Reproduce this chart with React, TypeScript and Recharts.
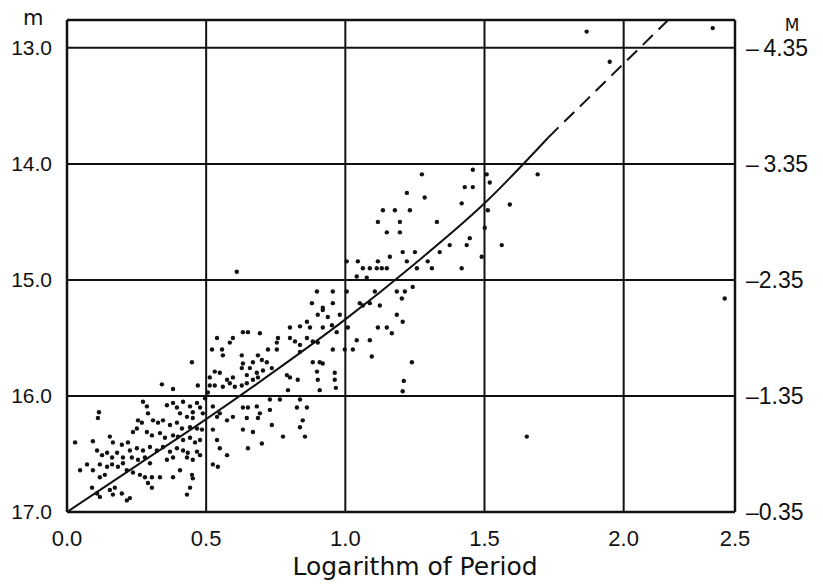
import { ScatterChart, Scatter, XAxis, YAxis, CartesianGrid, ReferenceLine } from 'recharts';

// x ticks follow the drawn grid; the frame closes at 2.4 on that spacing but is lettered "2.5"
const xTicks = [0, 0.5, 1.0, 1.5, 2.0, 2.4];
const xTickLabels = ['0.0', '0.5', '1.0', '1.5', '2.0', '2.5'];
const mTicks = [13, 14, 15, 16, 17];
const mTickLabels = ['13.0', '14.0', '15.0', '16.0', '17.0'];
const absMagLabels = ['–\u20094.35', '–\u20093.35', '–2.35', '–1.35', '–0.35'];
const mTop = 12.76;

// [log P, m]
const stars: [number, number][] = [
  [0.341, 15.9], [0.381, 15.94], [0.47, 15.91], [0.115, 16.14], [0.111, 16.19], [0.273, 16.05], [0.287, 16.09],
  [0.291, 16.15], [0.359, 16.08], [0.381, 16.06], [0.395, 16.1], [0.417, 16.05], [0.442, 16.09], [0.452, 16.14],
  [0.467, 16.06], [0.478, 16.1], [0.406, 16.15], [0.431, 16.18], [0.452, 16.19], [0.488, 16.15],
  [0.255, 16.21], [0.269, 16.23], [0.251, 16.28], [0.237, 16.31], [0.309, 16.21], [0.327, 16.23], [0.345, 16.21],
  [0.37, 16.25], [0.395, 16.23], [0.413, 16.28], [0.442, 16.27], [0.467, 16.28], [0.485, 16.29],
  [0.287, 16.31], [0.305, 16.34], [0.334, 16.32], [0.352, 16.36], [0.381, 16.34], [0.399, 16.35], [0.417, 16.38],
  [0.442, 16.36], [0.46, 16.4], [0.478, 16.38],
  [0.029, 16.4], [0.093, 16.39], [0.154, 16.35], [0.165, 16.4], [0.197, 16.42], [0.219, 16.4], [0.226, 16.47],
  [0.251, 16.45], [0.273, 16.47], [0.298, 16.44], [0.323, 16.47], [0.345, 16.44], [0.37, 16.48], [0.395, 16.45],
  [0.417, 16.47], [0.434, 16.49], [0.467, 16.48], [0.478, 16.51],
  [0.108, 16.47], [0.126, 16.51], [0.144, 16.49], [0.162, 16.53], [0.18, 16.49], [0.201, 16.53], [0.233, 16.53],
  [0.255, 16.55], [0.28, 16.53], [0.298, 16.58], [0.359, 16.55], [0.381, 16.53], [0.431, 16.53], [0.452, 16.55],
  [0.047, 16.64], [0.072, 16.59], [0.093, 16.64], [0.118, 16.59], [0.144, 16.61], [0.162, 16.59], [0.183, 16.61],
  [0.201, 16.58], [0.215, 16.64], [0.237, 16.66], [0.262, 16.68], [0.28, 16.7], [0.305, 16.7], [0.334, 16.7],
  [0.381, 16.7], [0.406, 16.64], [0.449, 16.68], [0.452, 16.71], [0.118, 16.7], [0.136, 16.68],
  [0.291, 16.75], [0.305, 16.79], [0.09, 16.79], [0.108, 16.84], [0.154, 16.81], [0.172, 16.79], [0.165, 16.85],
  [0.197, 16.84], [0.226, 16.88], [0.215, 16.9], [0.431, 16.85], [0.442, 16.79], [0.118, 16.87],
  [0.449, 15.71],
  [0.524, 16.09], [0.549, 16.15], [0.575, 16.21], [0.596, 16.18], [0.524, 16.29], [0.539, 16.38], [0.549, 16.45],
  [0.575, 16.51], [0.524, 16.59], [0.542, 16.61], [0.539, 16.18], [0.496, 16.02], [0.506, 15.97], [0.513, 15.91],
  [0.88, 15.2], [0.919, 15.24], [0.955, 15.2], [0.901, 15.3], [0.937, 15.32], [0.862, 15.36], [0.801, 15.41],
  [0.837, 15.4], [0.873, 15.41], [0.952, 15.39], [0.969, 15.45], [0.632, 15.45], [0.65, 15.45], [0.693, 15.46],
  [0.539, 15.5], [0.585, 15.54], [0.596, 15.5], [0.758, 15.5], [0.754, 15.54], [0.801, 15.5], [0.819, 15.53],
  [0.837, 15.56], [0.862, 15.5], [0.883, 15.53], [0.901, 15.54],
  [0.521, 15.6], [0.557, 15.6], [0.56, 15.65], [0.722, 15.6], [0.754, 15.6], [0.837, 15.62], [0.955, 15.6],
  [1.027, 15.6], [1.041, 15.52],
  [0.628, 15.65], [0.686, 15.65], [0.7, 15.69], [0.718, 15.71], [0.668, 15.71], [0.632, 15.72], [0.657, 15.76],
  [0.628, 15.76], [0.736, 15.76], [0.704, 15.78], [0.682, 15.8], [0.686, 15.84], [0.668, 15.86], [0.646, 15.82],
  [0.596, 15.84], [0.575, 15.86], [0.531, 15.79], [0.549, 15.8], [0.513, 15.84],
  [0.531, 15.91], [0.56, 15.92], [0.585, 15.89], [0.603, 15.92], [0.628, 15.91], [0.646, 15.89], [0.79, 15.82],
  [0.801, 15.84], [0.829, 15.86], [0.794, 15.95], [0.883, 15.71], [0.908, 15.71], [0.919, 15.72], [0.898, 15.79],
  [0.901, 15.86], [0.962, 15.8], [0.962, 15.86], [0.966, 15.93], [0.908, 15.95],
  [0.632, 16.1], [0.65, 16.1], [0.682, 16.09], [0.693, 16.15], [0.729, 16.03], [0.765, 16.03], [0.837, 16.03],
  [0.826, 16.1], [0.862, 16.1], [0.729, 16.12], [0.736, 16.25], [0.686, 16.19], [0.646, 16.19], [0.847, 16.21],
  [0.837, 16.27], [0.632, 16.29], [0.668, 16.31], [0.7, 16.41], [0.65, 16.45], [0.776, 16.35], [0.855, 16.35],
  [0.898, 15.1], [0.955, 15.1], [0.919, 15.26], [1.106, 15.1], [1.063, 15.22], [1.088, 15.2], [1.124, 15.22],
  [1.117, 15.41], [1.149, 15.41], [1.088, 15.52], [1.095, 15.66],
  [1.275, 14.09], [1.458, 14.05], [1.508, 14.09], [1.519, 14.16], [1.691, 14.09], [1.429, 14.2], [1.458, 14.2],
  [1.221, 14.25], [1.285, 14.29], [1.418, 14.34], [1.512, 14.4], [1.591, 14.35], [1.135, 14.4], [1.178, 14.4],
  [1.232, 14.4], [1.117, 14.5], [1.196, 14.5], [1.329, 14.5], [1.149, 14.59], [1.196, 14.59], [1.501, 14.55],
  [1.447, 14.64], [1.375, 14.7], [1.436, 14.7], [1.562, 14.7], [1.206, 14.76], [1.25, 14.76], [1.339, 14.76],
  [1.16, 14.8], [1.49, 14.8],
  [1.005, 14.84], [1.045, 14.84], [1.117, 14.84], [1.221, 14.84], [1.296, 14.84], [1.063, 14.9], [1.088, 14.9],
  [1.113, 14.9], [1.131, 14.9], [1.149, 14.9], [1.257, 14.9], [1.311, 14.9], [1.418, 14.9], [1.077, 14.98],
  [1.041, 14.97],
  [1.005, 15.1], [1.185, 15.1], [1.214, 15.1], [1.242, 15.06], [1.203, 15.16], [0.98, 15.3], [1.052, 15.2],
  [1.185, 15.3], [1.206, 15.36], [1.009, 15.41], [0.919, 15.41], [1.167, 15.46], [0.998, 15.6], [1.239, 15.71],
  [1.21, 15.87], [1.206, 15.96],
  [0.61, 14.93], [1.652, 16.35], [2.363, 15.16], [1.867, 12.86], [1.95, 13.12], [2.32, 12.83],
];

// mean period-luminosity curve, solid part then the dashed extrapolation
const curveSolid: [number, number][] = [
  [0, 17.0], [0.25, 16.6], [0.5, 16.2], [0.75, 15.78], [1.0, 15.34], [1.25, 14.86], [1.5, 14.34], [1.73, 13.77],
];
const curveDashed: [number, number][] = [
  [1.73, 13.77], [2.16, 12.76],
];

const toRows = (pts: [number, number][]) => pts.map(([x, m]) => ({ x, m }));

const INK = '#111';
const tickFont = { fontSize: 21, fill: INK, fontFamily: 'Liberation Sans, Arial, sans-serif' };

const Dot = (p: any) => <circle cx={p.cx} cy={p.cy} r={2.2} fill={INK} />;
const NoDot = () => <g />;

export default function App() {
  return (
    <div style={{ position: 'relative', width: 815, height: 577, background: '#fff' }}>
      <ScatterChart width={815} height={577} margin={{ top: 12, right: 0, bottom: 0, left: 0 }}>
        <CartesianGrid yAxisId="m" stroke={INK} strokeWidth={2} />
        <XAxis
          type="number"
          dataKey="x"
          domain={[0, 2.4]}
          ticks={xTicks}
          interval={0}
          allowDataOverflow
          height={73}
          tickSize={0}
          tickMargin={18}
          axisLine={{ stroke: INK, strokeWidth: 2.5 }}
          tick={{ ...tickFont, fontSize: 22 }}
          tickFormatter={(v: number) => xTickLabels[xTicks.indexOf(v)] ?? String(v)}
          label={{
            value: 'Logarithm of Period',
            position: 'insideBottom',
            offset: 10,
            dx: 14,
            fontSize: 25,
            fontFamily: 'DejaVu Sans, sans-serif',
            fill: INK,
          }}
        />
        <YAxis
          yAxisId="m"
          type="number"
          dataKey="m"
          domain={[mTop, 17]}
          reversed
          allowDataOverflow
          ticks={mTicks}
          interval={0}
          width={59}
          tickSize={0}
          tickMargin={15}
          axisLine={{ stroke: INK, strokeWidth: 2.5 }}
          tick={tickFont}
          tickFormatter={(v: number) => mTickLabels[mTicks.indexOf(v)] ?? String(v)}
        />
        <YAxis
          yAxisId="M"
          orientation="right"
          type="number"
          dataKey="m"
          domain={[mTop, 17]}
          reversed
          allowDataOverflow
          ticks={mTicks}
          interval={0}
          width={88}
          tickSize={0}
          tickMargin={11}
          axisLine={{ stroke: INK, strokeWidth: 2.5 }}
          tick={{ ...tickFont, fontSize: 23, textAnchor: 'start' }}
          tickFormatter={(v: number) => absMagLabels[mTicks.indexOf(v)] ?? String(v)}
        />
        <ReferenceLine yAxisId="m" y={mTop} stroke={INK} strokeWidth={2.5} />
        <Scatter yAxisId="m" data={toRows(stars)} shape={Dot} isAnimationActive={false} />
        <Scatter
          yAxisId="m"
          data={toRows(curveSolid)}
          line={{ stroke: INK, strokeWidth: 2 }}
          lineJointType="monotoneX"
          shape={NoDot}
          isAnimationActive={false}
        />
        <Scatter
          yAxisId="M"
          data={toRows(curveDashed)}
          line={{ stroke: INK, strokeWidth: 2, strokeDasharray: '14 8' }}
          shape={NoDot}
          isAnimationActive={false}
        />
      </ScatterChart>
      <svg
        width={815}
        height={577}
        style={{ position: 'absolute', left: 0, top: 0, pointerEvents: 'none', overflow: 'visible' }}
        fontFamily="DejaVu Sans, sans-serif"
        fill={INK}
      >
        <text x={15} y={17} fontSize={21}>m</text>
        <text x={784} y={23} fontSize={17} textAnchor="middle">M</text>
      </svg>
    </div>
  );
}
